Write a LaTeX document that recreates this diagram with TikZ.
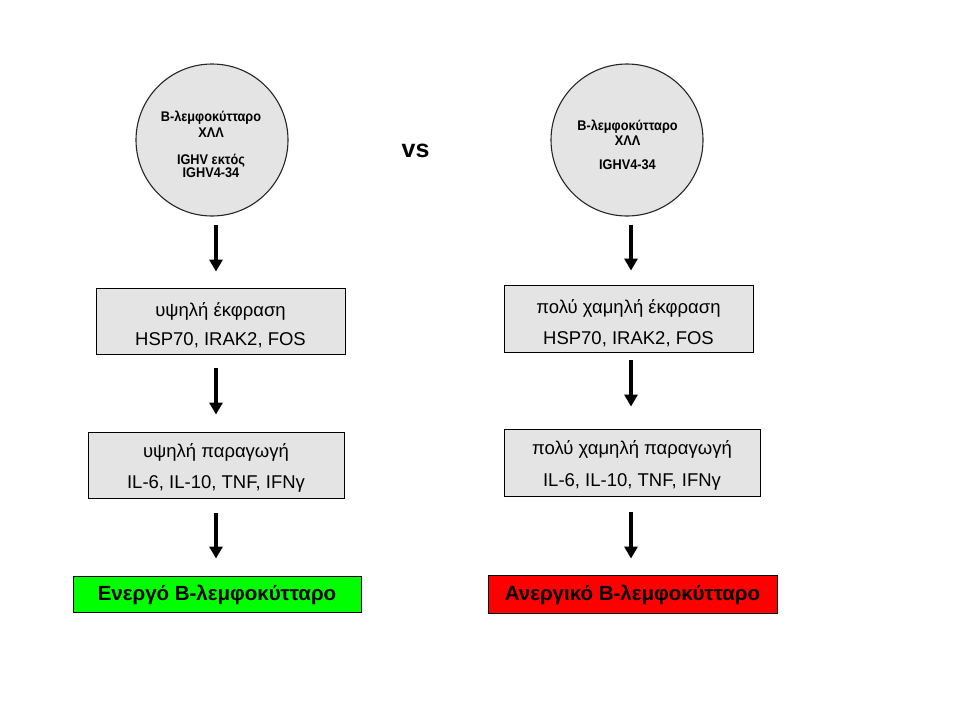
\documentclass[tikz,border=0pt]{standalone}
\usepackage{fontspec}
\setmainfont{Liberation Sans}
\newfontfamily\narrowfont[FakeStretch=0.91]{Liberation Sans}
\usetikzlibrary{arrows.meta}
\definecolor{boxgray}{HTML}{E4E4E4}
\tikzset{
  cell/.style={circle, draw=black!85, line width=1.1pt, fill=boxgray, minimum size=152pt, inner sep=0pt},
  celltext/.style={anchor=base, font=\narrowfont\bfseries\fontsize{14}{14}\selectfont, inner sep=0pt},
  infobox/.style={rectangle, draw=black, line width=0.9pt, fill=boxgray, inner sep=0pt},
  infotext/.style={anchor=base, font=\fontsize{18.5}{20}\selectfont, inner sep=0pt},
  resbox/.style={rectangle, draw=black, line width=0.9pt, inner sep=0pt},
  restext/.style={anchor=base, font=\bfseries\fontsize{20.5}{22}\selectfont, inner sep=0pt},
  arr/.style={line width=3.5pt, -{Triangle[width=13pt,length=12pt]}}
}
\begin{document}
\begin{tikzpicture}[x=1pt,y=-1pt]
\useasboundingbox (0,0) rectangle (960,720);
% left column
\node[cell] (c1) at (212,140) {};
\node[celltext] (t1a) at (211,121.5) {B-λεμφοκύτταρο};
\node[celltext] (t1b) at (211,137.5) {ΧΛΛ};
\node[celltext] (t1c) at (211,164.5) {IGHV εκτός};
\node[celltext] (t1d) at (211,177.5) {IGHV4-34};
\node[infobox, minimum width=249pt, minimum height=66pt] (b1) at (220.5,321) {};
\node[infotext] (b1a) at (220.5,316) {υψηλή έκφραση};
\node[infotext] (b1b) at (220.5,345) {HSP70, IRAK2, FOS};
\node[infobox, minimum width=256pt, minimum height=66pt] (b2) at (216,465) {};
\node[infotext] (b2a) at (216,457) {υψηλή παραγωγή};
\node[infotext] (b2b) at (216,488) {IL-6, IL-10, TNF, IFNγ};
\node[resbox, fill=green, minimum width=288pt, minimum height=36pt] (r1) at (217,594) {};
\node[restext] (r1t) at (217,600.5) {Ενεργό Β-λεμφοκύτταρο};
\coordinate (L) at (216,0);
\draw[arr, shorten <=8pt, shorten >=16pt] (c1.south -| L) -- (b1.north -| L);
\draw[arr, shorten <=14pt, shorten >=17pt] (b1.south -| L) -- (b2.north -| L);
\draw[arr, shorten <=15pt, shorten >=17pt] (b2.south -| L) -- (r1.north -| L);
% vs
\node[font=\bfseries\fontsize{25}{28}\selectfont, inner sep=0pt] (vs) at (415.5,151) {vs};
% right column
\node[cell] (c2) at (627,140) {};
\node[celltext] (t2a) at (627.5,130) {B-λεμφοκύτταρο};
\node[celltext] (t2b) at (627.5,145) {ΧΛΛ};
\node[celltext] (t2c) at (627.5,169) {IGHV4-34};
\node[infobox, minimum width=249pt, minimum height=67pt] (b3) at (628.5,318.5) {};
\node[infotext] (b3a) at (628.5,313.5) {πολύ χαμηλή έκφραση};
\node[infotext] (b3b) at (628.5,344) {HSP70, IRAK2, FOS};
\node[infobox, minimum width=256pt, minimum height=67pt] (b4) at (632,462.5) {};
\node[infotext] (b4a) at (632,454.5) {πολύ χαμηλή παραγωγή};
\node[infotext] (b4b) at (632,486.5) {IL-6, IL-10, TNF, IFNγ};
\node[resbox, fill=red, minimum width=289pt, minimum height=38pt] (r2) at (632.5,594) {};
\node[restext] (r2t) at (632.5,600.5) {Ανεργικό Β-λεμφοκύτταρο};
\coordinate (R) at (631,0);
\draw[arr, shorten <=8pt, shorten >=14pt] (c2.south -| R) -- (b3.north -| R);
\draw[arr, shorten <=8pt, shorten >=22pt] (b3.south -| R) -- (b4.north -| R);
\draw[arr, shorten <=16pt, shorten >=16pt] (b4.south -| R) -- (r2.north -| R);
\end{tikzpicture}
\end{document}
